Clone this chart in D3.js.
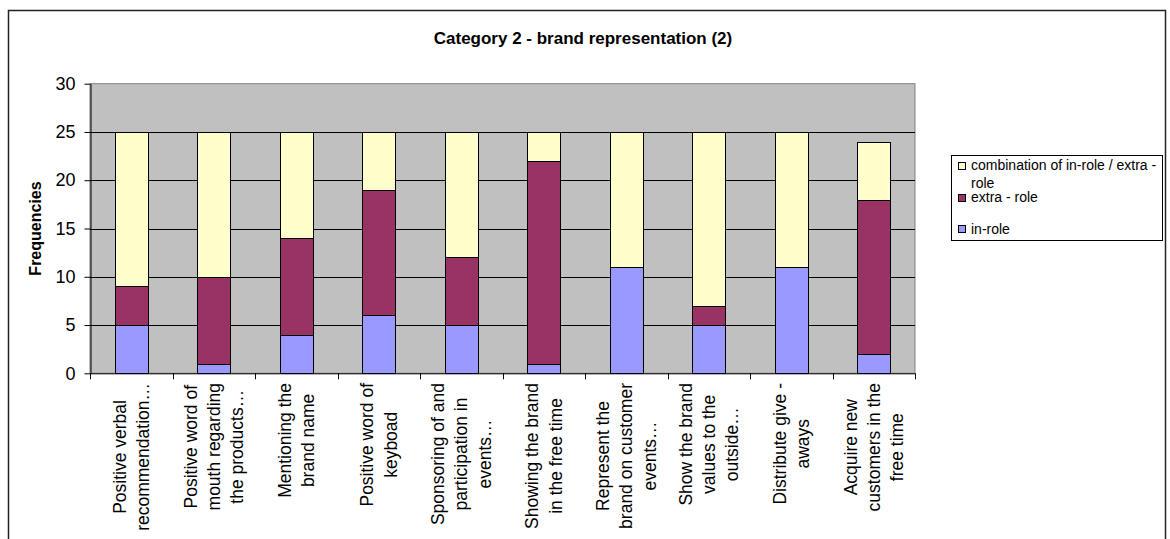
<!DOCTYPE html>
<html>
<head>
<meta charset="utf-8">
<script src="https://cdn.jsdelivr.net/npm/d3@7"></script>
<style>
  html, body { margin: 0; padding: 0; background: #fff; }
  svg { display: block; font-family: "Liberation Sans", Arial, sans-serif; }
</style>
</head>
<body>
<svg id="chart" width="1170" height="539"></svg>
<script>
// Category labels (line breaks mark the wrapped axis labels)
const categories = [
  "Positive verbal\nrecommendation…",
  "Positive word of\nmouth regarding\nthe products…",
  "Mentioning the\nbrand name",
  "Positive word of\nkeyboad",
  "Sponsoring of and\nparticipation in\nevents…",
  "Showing the brand\nin the free time",
  "Represent the\nbrand on customer\nevents…",
  "Show the brand\nvalues to the\noutside…",
  "Distribute give -\naways",
  "Acquire new\ncustomers in the\nfree time"
];

// Series values (stacked bottom to top)
const inRole      = [5, 1, 4, 6, 5, 1, 11, 5, 11, 2];
const extraRole   = [4, 9, 10, 13, 7, 21, 0, 2, 0, 16];
const combination = [16, 15, 11, 6, 13, 3, 14, 18, 14, 6];

const seriesNames = ["in-role", "extra - role", "combination of in-role / extra - role"];
const seriesColors = ["#9999FF", "#993366", "#FFFFCC"];
const yTicks = [0, 5, 10, 15, 20, 25, 30];

const title = "Category 2 - brand representation (2)";
const yTitle = "Frequencies";

const svg = d3.select("#chart");

// Chart area frame
svg.append("rect")
  .attr("x", 8.5).attr("y", 10.5)
  .attr("width", 1157).attr("height", 540)
  .attr("fill", "#fff").attr("stroke", "#222").attr("stroke-width", 1.5);

const plot = { left: 90, right: 915, top: 83.7, bottom: 373.3 };

const x = d3.scaleBand()
  .domain(d3.range(categories.length))
  .range([plot.left, plot.right])
  .paddingInner(0.6)
  .paddingOuter(0.3);

const y = d3.scaleLinear().domain([0, 30]).range([plot.bottom, plot.top]);

// Plot background
svg.append("rect")
  .attr("x", plot.left).attr("y", plot.top)
  .attr("width", plot.right - plot.left).attr("height", plot.bottom - plot.top)
  .attr("fill", "#C0C0C0").attr("stroke", "#808080").attr("stroke-width", 1);

// Horizontal gridlines
svg.append("g")
  .selectAll("line")
  .data(yTicks.filter(t => t > 0 && t < 30))
  .join("line")
  .attr("x1", plot.left).attr("x2", plot.right)
  .attr("y1", d => Math.round(y(d)) + 0.5).attr("y2", d => Math.round(y(d)) + 0.5)
  .attr("stroke", "#000").attr("stroke-width", 1);

// Stacked bars
const table = categories.map((c, i) => ({
  i,
  "in-role": inRole[i],
  "extra - role": extraRole[i],
  "combination of in-role / extra - role": combination[i]
}));
const stack = d3.stack().keys(seriesNames)(table);

svg.append("g")
  .selectAll("g")
  .data(stack)
  .join("g")
  .attr("fill", (d, k) => seriesColors[k])
  .selectAll("rect")
  .data(d => d.filter(p => p[1] > p[0]))
  .join("rect")
  .attr("x", p => Math.round(x(p.data.i)) + 0.5)
  .attr("y", p => Math.round(y(p[1])) + 0.5)
  .attr("width", Math.round(x.bandwidth()))
  .attr("height", p => Math.round(y(p[0])) - Math.round(y(p[1])))
  .attr("stroke", "#000").attr("stroke-width", 1);

// Y axis
const yAxis = svg.append("g")
  .attr("transform", `translate(${plot.left + 0.5},0)`)
  .call(d3.axisLeft(y).tickValues(yTicks).tickSize(6).tickPadding(9).tickSizeOuter(0));
yAxis.select(".domain").attr("stroke", "#000");
yAxis.selectAll(".tick line").attr("stroke", "#000");
yAxis.selectAll(".tick text")
  .attr("font-size", 18).attr("fill", "#000")
  .attr("font-family", "Liberation Sans, Arial, sans-serif");

// X axis (ticks at category boundaries)
const xAxisG = svg.append("g");
xAxisG.append("line")
  .attr("x1", plot.left).attr("x2", plot.right)
  .attr("y1", plot.bottom + 0.5).attr("y2", plot.bottom + 0.5)
  .attr("stroke", "#000");
const step = x.step();
const boundaries = d3.range(categories.length + 1).map(k => x(0) - step * x.paddingOuter() + k * step - (k === 0 ? 0 : 0));
xAxisG.selectAll("line.tick")
  .data(d3.range(categories.length + 1))
  .join("line")
  .attr("class", "tick")
  .attr("x1", k => Math.round(plot.left + k * step) + 0.5)
  .attr("x2", k => Math.round(plot.left + k * step) + 0.5)
  .attr("y1", plot.bottom).attr("y2", plot.bottom + 6)
  .attr("stroke", "#000");

// Rotated category labels, lines centred within each block
const labelFont = 17.5;
const lineGap = 23.3;
const labelTop = 383;
categories.forEach((c, i) => {
  const lines = c.split("\n");
  const cx = x(i) + x.bandwidth() / 2;
  const g = svg.append("g");
  const texts = lines.map((ln, j) => g.append("text")
    .attr("font-size", labelFont)
    .attr("fill", "#000")
    .attr("text-anchor", "middle")
    .text(ln));
  const maxW = d3.max(texts, t => t.node().getComputedTextLength());
  const cy = labelTop + maxW / 2;
  texts.forEach((t, j) => {
    const lx = cx + (j - (lines.length - 1) / 2) * lineGap;
    t.attr("transform", `translate(${lx + 0.35 * labelFont},${cy}) rotate(-90)`);
  });
});

// Title
svg.append("text")
  .attr("x", 583).attr("y", 44)
  .attr("text-anchor", "middle")
  .attr("font-size", 17).attr("font-weight", "bold")
  .text(title);

// Y axis title
svg.append("text")
  .attr("transform", `translate(${35 + 0.35 * 16},${(plot.top + plot.bottom) / 2}) rotate(-90)`)
  .attr("text-anchor", "middle")
  .attr("font-size", 16).attr("font-weight", "bold")
  .text(yTitle);

// Legend
const legend = svg.append("g");
legend.append("rect")
  .attr("x", 951.5).attr("y", 155.5)
  .attr("width", 211).attr("height", 85)
  .attr("fill", "#fff").attr("stroke", "#000").attr("stroke-width", 1);

const legendItems = [
  { k: 2, lines: ["combination of in-role / extra -", "role"], sy: 162.5, ty: 170 },
  { k: 1, lines: ["extra - role"], sy: 194.5, ty: 202 },
  { k: 0, lines: ["in-role"], sy: 225.5, ty: 233.5 }
];
legendItems.forEach(it => {
  legend.append("rect")
    .attr("x", 958.5).attr("y", it.sy)
    .attr("width", 7).attr("height", 7)
    .attr("fill", seriesColors[it.k]).attr("stroke", "#000").attr("stroke-width", 1);
  it.lines.forEach((ln, j) => {
    legend.append("text")
      .attr("x", 971).attr("y", it.ty + j * 18)
      .attr("font-size", 14).attr("fill", "#000")
      .text(ln);
  });
});
</script>
</body>
</html>
